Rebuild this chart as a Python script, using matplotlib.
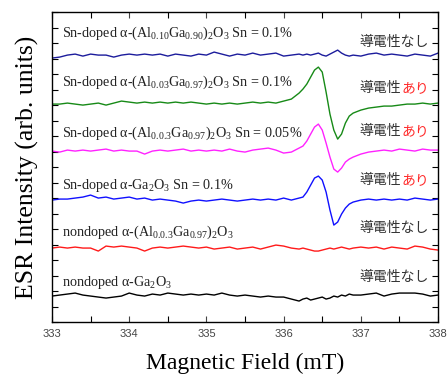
import matplotlib
matplotlib.use("Agg")
import matplotlib.pyplot as plt
from matplotlib.ticker import MultipleLocator

plt.rcParams['mathtext.fontset'] = 'custom'
plt.rcParams['mathtext.rm'] = 'Liberation Serif'
plt.rcParams['mathtext.it'] = 'Liberation Serif:italic'
plt.rcParams['mathtext.default'] = 'rm'

# magnetic field (mT), denser around the resonance
field = [333.0, 333.1, 333.2, 333.3, 333.4, 333.5, 333.6, 333.7, 333.8, 333.9,
         334.0, 334.1, 334.2, 334.3, 334.4, 334.5, 334.6, 334.7, 334.8, 334.9,
         335.0, 335.1, 335.2, 335.3, 335.4, 335.5, 335.6, 335.7, 335.8, 335.9,
         336.0, 336.1, 336.2,
         336.25, 336.3, 336.35, 336.4, 336.45, 336.5, 336.55, 336.6, 336.65,
         336.7, 336.75, 336.8, 336.85, 336.9,
         337.0, 337.1, 337.2, 337.3, 337.4, 337.5, 337.6, 337.7, 337.8, 337.9, 338.0]

# ESR intensity (arb. units, traces offset vertically)
al010_sn01 = [264, 265, 267, 268, 266, 268, 267, 267, 265, 267,
              268, 267, 268, 267, 268, 266, 268, 267, 266, 268,
              267, 270, 268, 266, 268, 267, 269, 267, 268, 269,
              266, 267, 268,
              267, 268, 267, 268, 269, 267, 266, 268, 270, 272, 269, 267, 266, 267,
              266, 268, 269, 267, 268, 267, 266, 268, 267, 266, 269]
al003_sn01 = [218, 218, 219, 218, 217, 218, 219, 217, 219, 221,
              220, 219, 220, 219, 220, 219, 220, 219, 220, 219,
              218, 219, 218, 219, 218, 219, 220, 219, 220, 219,
              221, 223, 229,
              233, 238, 245, 252, 255, 250, 230, 208, 192, 183, 188, 199, 206, 209,
              212, 214, 215, 216, 216, 217, 218, 218, 219, 218, 219]
al003_sn005 = [171, 170, 172, 171, 172, 171, 172, 173, 171, 172,
               171, 171, 168, 171, 172, 171, 172, 173, 171, 172,
               171, 172, 171, 173, 171, 170, 172, 173, 174, 172,
               169, 170, 174,
               176, 181, 188, 195, 198, 192, 179, 165, 153, 150, 154, 160, 163, 165,
               168, 170, 171, 172, 171, 173, 172, 171, 173, 172, 172]
ga2o3_sn01 = [122, 123, 123, 124, 125, 127, 124, 125, 123, 124,
              125, 123, 124, 122, 123, 122, 121, 119, 121, 122,
              121, 122, 123, 122, 121, 122, 123, 122, 123, 122,
              124, 122, 124,
              125, 130, 137, 144, 146, 142, 130, 112, 97, 100, 108, 114, 118, 120,
              122, 123, 122, 123, 122, 123, 122, 124, 123, 122, 123]
al003_nondoped = [74, 75, 74, 75, 74, 74, 71, 76, 75, 76,
                  75, 74, 71, 74, 75, 74, 75, 76, 75, 74,
                  75, 73, 74, 75, 73, 74, 75, 73, 75, 77,
                  76, 74, 73,
                  74, 73, 72, 71, 71, 72, 73, 74, 73, 74, 75, 74, 73, 74,
                  75, 74, 75, 73, 75, 74, 73, 76, 75, 73, 72]
ga2o3_nondoped = [26, 27, 28, 29, 27, 26, 25, 24, 25, 26,
                  29, 27, 26, 28, 27, 29, 28, 27, 28, 27,
                  28, 27, 29, 27, 26, 27, 26, 25, 26, 25,
                  25, 23, 21,
                  23, 24, 22, 23, 24, 25, 23, 24, 26, 25, 27, 26, 28, 27,
                  27, 28, 29, 26, 28, 29, 29, 29, 28, 26, 27]

traces = [al010_sn01, al003_sn01, al003_sn005, ga2o3_sn01, al003_nondoped, ga2o3_nondoped]
colors = ['#1c1c9c', '#178a17', '#ff22ff', '#1010ff', '#ff1a1a', '#000000']
sample_labels = [
    r"Sn-doped α-(Al$_{0.10}$Ga$_{0.90}$)$_2$O$_3$ Sn = 0.1%",
    r"Sn-doped α-(Al$_{0.03}$Ga$_{0.97}$)$_2$O$_3$ Sn = 0.1%",
    r"Sn-doped α-(Al$_{0.0.3}$Ga$_{0.97}$)$_2$O$_3$ Sn = 0.05%",
    r"Sn-doped α-Ga$_2$O$_3$ Sn = 0.1%",
    r"nondoped α-(Al$_{0.0.3}$Ga$_{0.97}$)$_2$O$_3$",
    r"nondoped α-Ga$_2$O$_3$",
]
conductive = [False, True, True, True, False, False]
label_y = [289, 240, 189, 137, 90, 40]
jp_y = [280, 234, 191, 142, 94, 45]

fig = plt.figure(figsize=(4.47, 3.78), dpi=100)
ax = fig.add_axes([0.1163, 0.148, 0.8637, 0.82])

for y, c in zip(traces, colors):
    ax.plot(field, y, color=c, lw=1.0)

for lab, yy in zip(sample_labels, label_y):
    ax.text(333.13, yy, lab, fontsize=10.2, family='Liberation Serif',
            color='#222222', va='center', ha='left')

jp = ['Noto Sans CJK JP', 'DejaVu Sans']
jp_x = 337.88
for cond, yy in zip(conductive, jp_y):
    if cond:
        t = ax.text(jp_x, yy, "あり", fontsize=10, family=jp, color='#ff2a2a',
                    va='center', ha='right')
        ax.annotate("導電性", xycoords=t, xy=(0, 0.5), fontsize=10, family=jp,
                    color='#333333', va='center', ha='right')
    else:
        ax.text(jp_x, yy, "導電性なし", fontsize=10, family=jp, color='#333333',
                va='center', ha='right')

ax.set_xlim(333, 338)
ax.set_ylim(0, 310)
ax.xaxis.set_major_locator(MultipleLocator(1))
ax.xaxis.set_minor_locator(MultipleLocator(0.5))
ax.yaxis.set_major_locator(MultipleLocator(15.5))
ax.set_yticklabels([])
ax.tick_params(which='both', direction='in', top=True, right=True, width=0.8)
ax.tick_params(which='major', length=4)
ax.tick_params(which='minor', length=4)
ax.tick_params(axis='x', labelsize=8, colors='#444444', pad=5)
for lab in ax.get_xticklabels():
    lab.set_family('Liberation Sans')
for s in ax.spines.values():
    s.set_linewidth(1.0)

ax.set_xlabel("Magnetic Field (mT)", fontsize=17, family='Liberation Serif', labelpad=10)
ax.set_ylabel("ESR Intensity (arb. units)", fontsize=18.5, family='Liberation Serif', labelpad=6)

fig.savefig("out.png", dpi=100)
